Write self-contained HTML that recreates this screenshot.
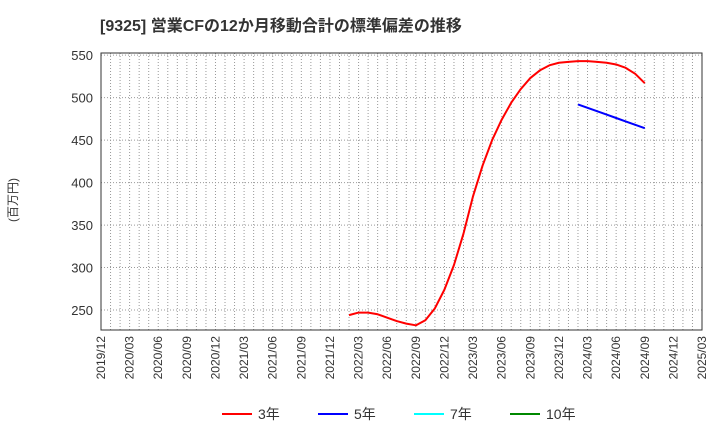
<!DOCTYPE html>
<html><head><meta charset="utf-8"><style>
body{margin:0;background:#fff;font-family:"Liberation Sans","Noto Sans CJK JP",sans-serif;}
</style></head><body>
<svg id="c" width="720" height="440" xmlns="http://www.w3.org/2000/svg">
<text x="100" y="31" font-size="16" font-weight="bold" fill="#333">[9325]  営業CFの12か月移動合計の標準偏差の推移</text>
<text transform="translate(17,200) rotate(-90)" text-anchor="middle" font-size="12" fill="#333">(百万円)</text>
<g id="grid"></g><g id="axes"></g><g id="series"></g>
<g font-size="14" fill="#333">
<line x1="222" y1="414" x2="252" y2="414" stroke="#f00" stroke-width="2"/><text x="258" y="419">3年</text>
<line x1="318" y1="414" x2="348" y2="414" stroke="#00f" stroke-width="2"/><text x="354" y="419">5年</text>
<line x1="414" y1="414" x2="444" y2="414" stroke="#0ff" stroke-width="2"/><text x="450" y="419">7年</text>
<line x1="510" y1="414" x2="540" y2="414" stroke="#080" stroke-width="2"/><text x="546" y="419">10年</text>
</g>
</svg>
<script>
const yTicks=[250,300,350,400,450,500,550];
const xTickLabels=["2019/12","2020/03","2020/06","2020/09","2020/12","2021/03","2021/06","2021/09","2021/12","2022/03","2022/06","2022/09","2022/12","2023/03","2023/06","2023/09","2023/12","2024/03","2024/06","2024/09","2024/12","2025/03"];
const s3Start=26; // months since 2019/12
const s3=[244,247,247,245,241,237,234,232,238,252,274,303,340,384,420,450,474,494,510,523,532,538,541,542,543,543,542,541,539,535,528,517];
const s5Start=50;
const s5=[492,488,484,480,476,472,468,464];
const L=101,R=702,T=53,B=330,yMin=226.5,yMax=552.5,nM=63;
const X=m=>L+m*(R-L)/nM, Y=v=>B-(v-yMin)/(yMax-yMin)*(B-T);
const NS="http://www.w3.org/2000/svg";
function mk(t,a,p){const e=document.createElementNS(NS,t);for(const k in a)e.setAttribute(k,a[k]);p.appendChild(e);return e;}
const g=document.getElementById('grid'),ax=document.getElementById('axes'),se=document.getElementById('series');
for(let m=1;m<nM;m++){const l=mk('line',{x1:X(m),x2:X(m),y1:T,y2:B,stroke:'#999','stroke-dasharray':'1,2','stroke-width':1},g);

}
yTicks.forEach(v=>{const l=mk('line',{x1:L,x2:R,y1:Y(v),y2:Y(v),stroke:'#999','stroke-dasharray':'1,2'},g);


const t=mk('text',{x:L-8,y:Y(v)+5,'text-anchor':'end','font-size':13,fill:'#333'},ax);t.textContent=v;

});
xTickLabels.forEach((s,i)=>{const x=X(i*3);const t=mk('text',{transform:`translate(${x+4},${B+6}) rotate(-90)`,'text-anchor':'end','font-size':12,fill:'#333'},ax);t.textContent=s;

});
const fr=mk('rect',{x:L,y:T,width:R-L,height:B-T,fill:'none',stroke:'#333','stroke-width':1},ax);


function line(arr,st,col,name){const p=mk('polyline',{points:arr.map((v,i)=>X(st+i)+','+Y(v)).join(' '),fill:'none',stroke:col,'stroke-width':2,'stroke-linejoin':'round'},se);

}
line(s3,s3Start,'#f00','series-3y');
line(s5,s5Start,'#00f','series-5y');
</script>
</body></html>
